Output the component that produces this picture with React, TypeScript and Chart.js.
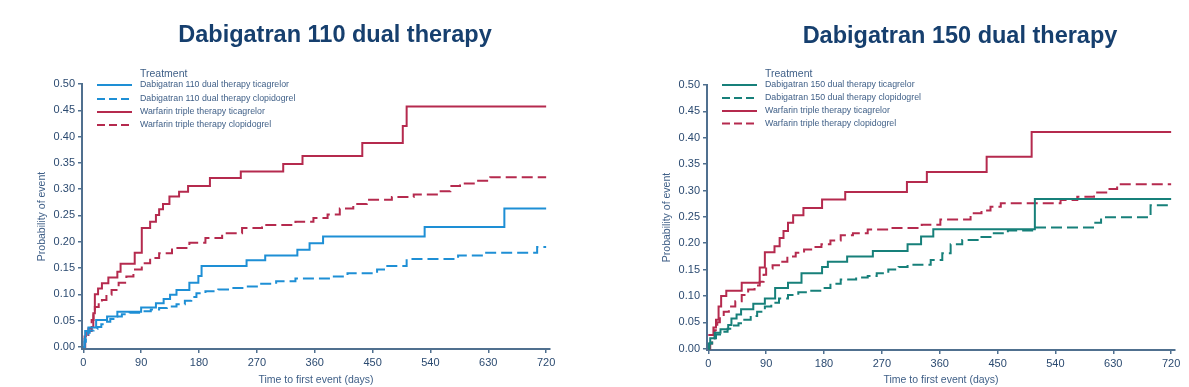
import React, { useEffect, useRef } from "react";
import { Chart, registerables } from "chart.js";

Chart.register(...registerables);

// ---------- data (time in days, cumulative probability of event) ----------
const X_TICKS = [0, 90, 180, 270, 360, 450, 540, 630, 720];
const Y_TICKS = [0, 0.05, 0.1, 0.15, 0.2, 0.25, 0.3, 0.35, 0.4, 0.45, 0.5];

const LEFT_TITLE = "Dabigatran 110 dual therapy";
const RIGHT_TITLE = "Dabigatran 150 dual therapy";
const LEGEND_TITLE = "Treatment";
const X_TITLE = "Time to first event (days)";
const Y_TITLE = "Probability of event";

const LEFT_LABELS = [
  "Dabigatran 110 dual therapy ticagrelor",
  "Dabigatran 110 dual therapy clopidogrel",
  "Warfarin triple therapy ticagrelor",
  "Warfarin triple therapy clopidogrel",
];
const RIGHT_LABELS = [
  "Dabigatran 150 dual therapy ticagrelor",
  "Dabigatran 150 dual therapy clopidogrel",
  "Warfarin triple therapy ticagrelor",
  "Warfarin triple therapy clopidogrel",
];

const dabi110Tica: number[][] = [
  [0, 0], [2, 0.015], [3, 0.03], [8, 0.037], [20, 0.051], [37, 0.058], [53, 0.067],
  [90, 0.075], [113, 0.083], [125, 0.091], [135, 0.099], [145, 0.108], [165, 0.122],
  [179, 0.135], [184, 0.154], [254, 0.165], [283, 0.174], [333, 0.185], [352, 0.197],
  [373, 0.21], [531, 0.228], [655, 0.263], [720, 0.263],
];
const dabi110Clop: number[][] = [
  [0, 0], [2, 0.01], [4, 0.02], [7, 0.027], [10, 0.031], [16, 0.034], [22, 0.038],
  [28, 0.043], [35, 0.048], [42, 0.053], [50, 0.058], [60, 0.062], [72, 0.065],
  [90, 0.068], [105, 0.071], [118, 0.074], [130, 0.077], [145, 0.081], [158, 0.088],
  [168, 0.095], [176, 0.102], [190, 0.106], [210, 0.109], [230, 0.112], [250, 0.115],
  [270, 0.12], [300, 0.125], [330, 0.13], [388, 0.134], [411, 0.14], [457, 0.147],
  [470, 0.154], [503, 0.167], [583, 0.174], [620, 0.179], [706, 0.19], [720, 0.19],
];
const warf110Tica: number[][] = [
  [0, 0], [2, 0.02], [4, 0.03], [13, 0.038], [15.6, 0.064], [18, 0.1], [23, 0.111],
  [29, 0.121], [39, 0.132], [53, 0.143], [58, 0.158], [80, 0.179], [91, 0.226],
  [104, 0.238], [113, 0.251], [118, 0.262], [124, 0.272], [134, 0.286], [149, 0.295],
  [163, 0.306], [197, 0.321], [245, 0.3335], [311, 0.348], [341, 0.363], [434, 0.388],
  [497, 0.42], [503, 0.457], [720, 0.457],
];
const warf110Clop: number[][] = [
  [0, 0], [3, 0.02], [8, 0.035], [13, 0.051], [16, 0.064], [18, 0.076], [24, 0.083],
  [29, 0.089], [36, 0.099], [44, 0.108], [55, 0.122], [67, 0.134], [78, 0.147],
  [91, 0.159], [104, 0.169], [118, 0.178], [138, 0.188], [165, 0.198], [190, 0.207],
  [216, 0.216], [247, 0.226], [278, 0.232], [330, 0.238], [358, 0.245], [380, 0.252],
  [399, 0.263], [420, 0.272], [441, 0.28], [480, 0.285], [514, 0.29], [550, 0.296],
  [571, 0.306], [586, 0.311], [610, 0.316], [633, 0.3225], [720, 0.3225],
];

const dabi150Tica: number[][] = [
  [0, 0], [1, 0.01], [3, 0.02], [10, 0.03], [19, 0.037], [31, 0.045], [36, 0.057],
  [44, 0.065], [51, 0.075], [70, 0.085], [88, 0.095], [104, 0.115], [124, 0.125],
  [145, 0.143], [177, 0.155], [186, 0.165], [216, 0.175], [256, 0.185], [310, 0.198],
  [331, 0.2125], [350, 0.2265], [508, 0.284], [720, 0.284],
];
const dabi150Clop: number[][] = [
  [0, 0], [2, 0.01], [6, 0.02], [12, 0.027], [20, 0.032], [30, 0.038], [40, 0.044],
  [47, 0.048], [56, 0.055], [66, 0.062], [76, 0.07], [88, 0.08], [98, 0.087],
  [110, 0.095], [124, 0.102], [140, 0.107], [158, 0.11], [176, 0.115], [190, 0.123],
  [206, 0.131], [230, 0.135], [248, 0.138], [262, 0.143], [280, 0.15], [296, 0.155],
  [310, 0.159], [346, 0.168], [364, 0.181], [377, 0.198], [395, 0.206], [419, 0.212],
  [441, 0.219], [466, 0.224], [508, 0.23], [602, 0.239], [611, 0.249], [688, 0.272],
  [720, 0.272],
];
const warf150Tica: number[][] = [
  [0, 0.026], [8, 0.04], [12, 0.055], [16, 0.08], [20, 0.1], [28, 0.11], [52, 0.125],
  [80, 0.154], [88, 0.183], [103, 0.194], [111, 0.21], [117, 0.223], [124, 0.239],
  [132, 0.253], [148, 0.267], [177, 0.283], [213, 0.297], [309, 0.316], [340, 0.335],
  [433, 0.364], [503, 0.411], [720, 0.411],
];
const warf150Clop: number[][] = [
  [0, 0], [3, 0.01], [6, 0.02], [10, 0.035], [14, 0.05], [18, 0.06], [24, 0.07],
  [32, 0.08], [42, 0.09], [52, 0.102], [62, 0.112], [72, 0.12], [80, 0.127], [86, 0.14],
  [90, 0.152], [100, 0.158], [112, 0.165], [123, 0.175], [136, 0.182], [149, 0.188],
  [162, 0.193], [176, 0.198], [190, 0.205], [206, 0.215], [225, 0.219], [248, 0.226],
  [280, 0.229], [332, 0.235], [361, 0.245], [408, 0.257], [425, 0.262], [439, 0.269],
  [455, 0.276], [548, 0.282], [574, 0.288], [600, 0.296], [619, 0.303], [636, 0.312],
  [720, 0.312],
];

// ---------- styles ----------
const BLUE = "#1e8fd5";
const RED = "#b52a4e";
const TEAL = "#17807a";
const AXIS = "#50708f";
const TICK_TEXT = "#2b4a70";
const LABEL_TEXT = "#3f5f87";
const TITLE_COLOR = "#163f6e";
const FONT = '"Liberation Sans", Arial, Helvetica, sans-serif';
const DASH = [11, 5];

const kmLegend = {
  id: "kmLegend",
  afterDraw(chart: any, _args: any, opts: any) {
    const { ctx, chartArea } = chart;
    const x0 = chartArea.left;
    ctx.save();
    ctx.textBaseline = "middle";
    ctx.textAlign = "left";
    ctx.fillStyle = LABEL_TEXT;
    ctx.font = `10.5px ${FONT}`;
    ctx.fillText(LEGEND_TITLE, x0 + 58, 74);
    chart.data.datasets.forEach((ds: any, i: number) => {
      const y = opts.rows[i];
      ctx.strokeStyle = ds.borderColor;
      ctx.lineWidth = 2;
      ctx.setLineDash(ds.borderDash && ds.borderDash.length ? [8, 4] : []);
      ctx.beginPath();
      ctx.moveTo(x0 + 15, y);
      ctx.lineTo(x0 + 50, y);
      ctx.stroke();
      ctx.setLineDash([]);
      ctx.fillStyle = LABEL_TEXT;
      ctx.font = `8.8px ${FONT}`;
      ctx.fillText(ds.label, x0 + 58, y);
    });
    ctx.restore();
  },
};

type Series = { label: string; pts: number[][]; color: string; dashed: boolean };

function KMChart(props: {
  width: number;
  series: Series[];
  padTop: number;
  padRight: number;
  xAxisH: number;
  yMin: number;
  rows: number[];
}) {
  const ref = useRef<HTMLCanvasElement | null>(null);
  useEffect(() => {
    if (!ref.current) return;
    const chart = new Chart(ref.current, {
      type: "line",
      data: {
        datasets: props.series.map((s) => ({
          label: s.label,
          data: s.pts.map((p) => ({ x: p[0], y: p[1] })),
          borderColor: s.color,
          backgroundColor: s.color,
          borderWidth: 2,
          borderDash: s.dashed ? DASH : [],
          stepped: "before",
          pointRadius: 0,
          fill: false,
          tension: 0,
        })),
      },
      options: {
        animation: false,
        responsive: false,
        events: [],
        layout: { padding: { left: 0, top: props.padTop, right: props.padRight, bottom: 0 } },
        plugins: {
          legend: { display: false },
          tooltip: { enabled: false },
          kmLegend: { rows: props.rows },
        } as any,
        scales: {
          x: {
            type: "linear",
            min: -2,
            max: 726,
            afterBuildTicks: (scale: any) => {
              scale.ticks = X_TICKS.map((v) => ({ value: v }));
            },
            afterFit: (scale: any) => {
              scale.height = props.xAxisH;
            },
            border: { display: true, color: AXIS, width: 2 },
            grid: { display: true, drawOnChartArea: false, drawTicks: true, tickLength: 4, color: AXIS, lineWidth: 1.5 },
            ticks: {
              autoSkip: false,
              maxRotation: 0,
              padding: 3,
              color: TICK_TEXT,
              font: { family: FONT, size: 11 },
              callback: (v: any) => String(v),
            },
            title: {
              display: true,
              text: X_TITLE,
              color: LABEL_TEXT,
              font: { family: FONT, size: 10.5 },
              padding: { top: 0, bottom: 1 },
            },
          },
          y: {
            type: "linear",
            min: props.yMin,
            max: 0.5,
            afterBuildTicks: (scale: any) => {
              scale.ticks = Y_TICKS.map((v) => ({ value: v }));
            },
            afterFit: (scale: any) => {
              scale.width = 82;
            },
            border: { display: true, color: AXIS, width: 2 },
            grid: { display: true, drawOnChartArea: false, drawTicks: true, tickLength: 4, color: AXIS, lineWidth: 1.5 },
            ticks: {
              padding: 3,
              color: TICK_TEXT,
              font: { family: FONT, size: 11 },
              callback: (v: any) => Number(v).toFixed(2),
            },
            title: {
              display: true,
              text: Y_TITLE,
              color: LABEL_TEXT,
              font: { family: FONT, size: 10.5 },
              padding: { top: 35.5, bottom: 0 },
            },
          },
        },
      },
      plugins: [kmLegend as any],
    });
    return () => chart.destroy();
  }, []);
  return <canvas ref={ref} width={props.width} height={387} style={{ display: "block" }} />;
}

export default function App() {
  const leftSeries: Series[] = [
    { label: LEFT_LABELS[0], pts: dabi110Tica, color: BLUE, dashed: false },
    { label: LEFT_LABELS[1], pts: dabi110Clop, color: BLUE, dashed: true },
    { label: LEFT_LABELS[2], pts: warf110Tica, color: RED, dashed: false },
    { label: LEFT_LABELS[3], pts: warf110Clop, color: RED, dashed: true },
  ];
  const rightSeries: Series[] = [
    { label: RIGHT_LABELS[0], pts: dabi150Tica, color: TEAL, dashed: false },
    { label: RIGHT_LABELS[1], pts: dabi150Clop, color: TEAL, dashed: true },
    { label: RIGHT_LABELS[2], pts: warf150Tica, color: RED, dashed: false },
    { label: RIGHT_LABELS[3], pts: warf150Clop, color: RED, dashed: true },
  ];
  const titleStyle: React.CSSProperties = {
    position: "absolute",
    width: 600,
    textAlign: "center",
    fontFamily: FONT,
    fontWeight: "bold",
    fontSize: "23.5px",
    lineHeight: "24px",
    color: TITLE_COLOR,
    whiteSpace: "nowrap",
  };
  return (
    <div style={{ position: "absolute", left: 0, top: 0, width: 1189, height: 387, overflow: "hidden", background: "#fff" }}>
      <div style={{ position: "absolute", left: 0, top: 0 }}>
        <KMChart width={594} series={leftSeries} padTop={84} padRight={44} xAxisH={38} yMin={-0.004} rows={[85, 99, 112, 125]} />
      </div>
      <div style={{ position: "absolute", left: 625, top: 0 }}>
        <KMChart width={564} series={rightSeries} padTop={85} padRight={14} xAxisH={37} yMin={-0.0025} rows={[85, 98, 111, 123.5]} />
      </div>
      <div style={{ ...titleStyle, left: 335 - 300, top: 21.5 }}>{LEFT_TITLE}</div>
      <div style={{ ...titleStyle, left: 960 - 300, top: 22.5 }}>{RIGHT_TITLE}</div>
    </div>
  );
}
